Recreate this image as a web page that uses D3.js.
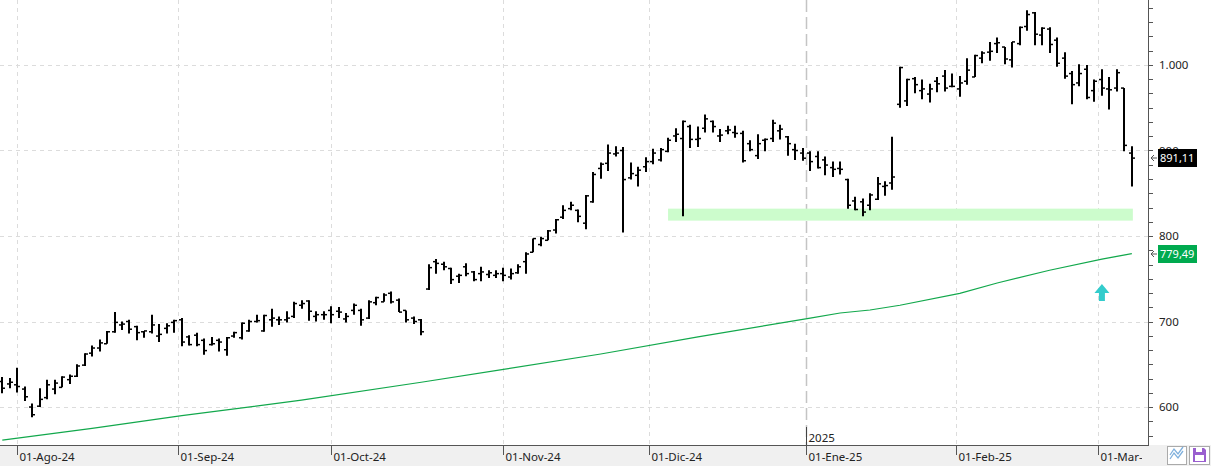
<!DOCTYPE html>
<html>
<head>
<meta charset="utf-8">
<script src="https://cdn.jsdelivr.net/npm/d3@7"></script>
<style>
  body { margin: 0; background: #fff; overflow: hidden; }
  text { font-family: "Segoe UI", "Noto Sans", "DejaVu Sans", sans-serif; }
</style>
</head>
<body>
<div id="chart"></div>
<script>
// trading calendar (US market) from 30-Jul-24 to 07-Mar-25
var firstDay = '2024-07-30', lastDay = '2025-03-07';
var holidays = ['2024-09-02', '2024-11-28', '2024-12-25', '2025-01-01', '2025-01-09', '2025-01-20', '2025-02-17'];

var open = [630, 627, 626, 621, 600, 601, 611, 621, 623, 632,
            636, 649, 663, 669, 674, 688, 696, 700, 694, 688,
            688, 683, 692, 699, 702, 682, 684, 678, 673, 678,
            667, 683, 681, 689, 700, 689, 702, 702, 702, 706,
            719, 724, 706, 708, 713, 712, 703, 713, 713, 704,
            722, 723, 733, 725, 713, 704, 702, 738, 770, 767,
            762, 753, 764, 758, 756, 755, 754, 756, 752, 757,
            770, 781, 790, 795, 807, 822, 832, 830, 815, 840,
            879, 885, 896, 900, 868, 871, 881, 887, 889, 899,
            917, 914, 928, 913, 926, 934, 917, 923, 921, 920,
            908, 894, 912, 914, 923, 916, 901, 897, 897, 893,
            889, 880, 879, 866, 841, 840, 836, 843, 858, 862,
            954, 958, 984, 970, 966, 981, 987, 975, 972, 981,
            986, 1008, 1015, 1025, 1021, 1006, 1025, 1045, 1061, 1035,
            1042, 1029, 1008, 990, 979, 995, 970, 983, 972, 973,
            973, 897];
var high = [635, 634, 646, 624, 604, 622, 632, 632, 636, 638,
            650, 663, 672, 679, 689, 711, 700, 702, 695, 689,
            708, 697, 698, 702, 704, 684, 687, 680, 682, 680,
            682, 688, 699, 702, 708, 708, 715, 706, 712, 723,
            725, 725, 712, 712, 718, 717, 710, 721, 715, 725,
            729, 733, 735, 727, 713, 706, 703, 767, 773, 770,
            763, 756, 768, 759, 764, 760, 760, 763, 762, 767,
            781, 797, 799, 807, 820, 836, 840, 831, 848, 875,
            886, 907, 905, 904, 886, 881, 892, 902, 903, 915,
            926, 935, 930, 928, 942, 935, 925, 929, 929, 923,
            912, 919, 914, 936, 930, 917, 908, 903, 899, 899,
            893, 887, 887, 867, 846, 844, 850, 869, 864, 916,
            998, 984, 986, 983, 978, 986, 994, 990, 987, 1008,
            1012, 1016, 1027, 1032, 1021, 1027, 1045, 1064, 1062, 1044,
            1044, 1032, 1015, 993, 1001, 1000, 983, 995, 986, 995,
            973, 905];
var low = [616, 622, 617, 607, 588, 600, 609, 615, 623, 627,
           635, 648, 659, 665, 674, 687, 690, 686, 678, 681,
           686, 676, 686, 687, 671, 672, 671, 661, 672, 665,
           660, 681, 679, 688, 699, 688, 694, 696, 699, 704,
           715, 701, 700, 702, 698, 704, 699, 708, 695, 703,
           719, 723, 721, 711, 699, 697, 684, 737, 756, 760,
           744, 745, 753, 747, 747, 751, 751, 747, 749, 756,
           756, 781, 788, 795, 803, 820, 830, 816, 808, 839,
           867, 876, 893, 804, 866, 858, 875, 884, 887, 898,
           910, 823, 903, 904, 921, 921, 910, 919, 915, 886,
           899, 890, 899, 910, 913, 894, 889, 888, 876, 879,
           871, 869, 872, 832, 830, 823, 830, 842, 847, 854,
           950, 952, 967, 960, 956, 968, 969, 974, 963, 977,
           986, 1002, 1005, 1014, 1001, 997, 1023, 1040, 1023, 1023,
           1014, 998, 984, 954, 975, 960, 957, 964, 948, 969,
           899, 858];
var close = [622, 629, 624, 612, 591, 609, 626, 628, 635, 636,
             648, 662, 669, 675, 688, 699, 697, 691, 687, 689,
             696, 685, 695, 701, 676, 673, 673, 666, 674, 676,
             681, 687, 698, 700, 701, 707, 704, 702, 704, 721,
             721, 712, 708, 708, 708, 711, 706, 719, 702, 723,
             728, 731, 723, 711, 702, 700, 688, 763, 768, 764,
             749, 754, 756, 749, 758, 757, 756, 754, 756, 764,
             779, 797, 797, 806, 819, 830, 836, 823, 847, 872,
             884, 897, 897, 866, 873, 877, 887, 897, 901, 912,
             919, 934, 913, 914, 937, 928, 918, 924, 920, 888,
             901, 908, 913, 932, 925, 908, 900, 891, 887, 880,
             883, 878, 878, 836, 831, 828, 848, 861, 859, 869,
             997, 983, 977, 972, 972, 978, 973, 975, 979, 994,
             1011, 1014, 1016, 1026, 1007, 1027, 1044, 1059, 1036, 1043,
             1024, 1002, 987, 977, 990, 962, 981, 973, 971, 991,
             906, 891.11];

// moving average (bar number -> value)
var maBar = [0, 12, 24, 40, 56, 67, 80, 93, 108, 112, 116, 120, 128, 133, 140, 147, 151];
var maVal = [561.4, 575, 590, 608, 629, 644, 662, 682, 704, 710, 713.5, 719, 733, 745, 760, 773, 779.49];

var zoneLow = 818, zoneHigh = 832, zoneFrom = '2024-12-04', zoneTo = '2025-03-07';
var signalDay = '2025-03-03', signalValue = 744;

var yTicks = [600, 700, 800, 900, 1000];
var monthNames = ['Ene', 'Feb', 'Mar', 'Abr', 'May', 'Jun', 'Jul', 'Ago', 'Sep', 'Oct', 'Nov', 'Dic'];

var W = 1211, H = 466, plotR = 1148, plotB = 445;

var es = d3.formatLocale({decimal: ',', thousands: '.', grouping: [3], currency: ['', ' €']});
var fmtTick = es.format(',.0f'), fmtLast = es.format(',.2f');

// build the list of trading days
var parse = d3.utcParse('%Y-%m-%d'), fmtKey = d3.utcFormat('%Y-%m-%d');
var days = d3.utcDay.range(parse(firstDay), d3.utcDay.offset(parse(lastDay), 1))
  .filter(function(d) { var w = d.getUTCDay(); return w !== 0 && w !== 6 && holidays.indexOf(fmtKey(d)) < 0; });

var bars = days.map(function(d, i) {
  return {date: d, open: open[i], high: high[i], low: low[i], close: close[i]};
});
function dayIndex(s) {
  var t = parse(s).getTime();
  for (var i = 0; i < days.length; i++) if (days[i].getTime() >= t) return i;
  return days.length - 1;
}

var x = d3.scaleLinear().domain([-0.307, 153.16]).range([0, plotR]);
var y = d3.scaleLinear().domain([555.6, 1076]).range([plotB, 0]);

var svg = d3.select('#chart').append('svg').attr('width', W).attr('height', H);

svg.append('rect').attr('x', 0).attr('y', 0).attr('width', W).attr('height', H).attr('fill', '#fff');
svg.append('rect').attr('x', 0).attr('y', plotB).attr('width', W).attr('height', H - plotB).attr('fill', '#f0f0f0');

// month ticks: on the first trading day, or between days when the 1st is closed
var monthTicks = [];
d3.utcMonth.range(parse('2024-08-01'), parse('2025-03-02')).forEach(function(m) {
  var i = dayIndex(fmtKey(m));
  var pos = days[i].getTime() === m.getTime() ? i : i - 0.5;
  monthTicks.push({pos: pos, date: m});
});
var yearTick = monthTicks.filter(function(t) { return t.date.getUTCMonth() === 0; })[0];

var grid = svg.append('g');
grid.selectAll('.hg').data(yTicks).enter().append('line')
  .attr('x1', 0).attr('x2', plotR)
  .attr('y1', function(d) { return Math.round(y(d)) + 0.5; })
  .attr('y2', function(d) { return Math.round(y(d)) + 0.5; })
  .style('stroke', '#dcdcdc').style('stroke-dasharray', '4,4');
grid.selectAll('.vg').data(monthTicks.filter(function(t) { return t !== yearTick; })).enter().append('line')
  .attr('x1', function(d) { return Math.round(x(d.pos)) + 0.5; })
  .attr('x2', function(d) { return Math.round(x(d.pos)) + 0.5; })
  .attr('y1', 0).attr('y2', plotB)
  .style('stroke', '#dcdcdc').style('stroke-dasharray', '4,4');
grid.append('line')
  .attr('x1', Math.round(x(yearTick.pos)) + 0.5).attr('x2', Math.round(x(yearTick.pos)) + 0.5)
  .attr('y1', 0).attr('y2', plotB)
  .style('stroke', '#c4c4c4').style('stroke-width', 1.5).style('stroke-dasharray', '12,5');

// support zone
var z0 = dayIndex(zoneFrom), z1 = dayIndex(zoneTo);
svg.append('rect')
  .attr('x', x(z0)).attr('width', x(z1) - x(z0) + 1)
  .attr('y', y(zoneHigh)).attr('height', y(zoneLow) - y(zoneHigh))
  .attr('fill', '#ccfccc');

// moving average
var maLine = d3.line()
  .x(function(d, i) { return x(maBar[i]); })
  .y(function(d) { return y(d); });
svg.append('path').datum(maVal).attr('d', maLine)
  .attr('fill', 'none').style('stroke', '#12a84c').style('stroke-width', 1.2);

// OHLC bars
var g = svg.append('g').attr('class', 'bars');
bars.forEach(function(b, i) {
  var cx = Math.round(x(i));
  g.append('line').attr('x1', cx).attr('x2', cx).attr('y1', y(b.high)).attr('y2', y(b.low))
    .style('stroke', '#000').style('stroke-width', 2);
  g.append('line').attr('x1', cx - 3).attr('x2', cx).attr('y1', y(b.open)).attr('y2', y(b.open))
    .style('stroke', '#000').style('stroke-width', 1.5);
  g.append('line').attr('x1', cx).attr('x2', cx + 3).attr('y1', y(b.close)).attr('y2', y(b.close))
    .style('stroke', '#000').style('stroke-width', 1.5);
});

// signal arrow
var ax = x(dayIndex(signalDay)), ay = y(signalValue);
svg.append('path')
  .attr('d', 'M' + ax + ',' + ay + 'l7.5,9h-4.5v8h-6v-8h-4.5z')
  .attr('fill', '#33cccc');

// right axis
var axisR = svg.append('g');
axisR.append('line').attr('x1', plotR + 0.5).attr('x2', plotR + 0.5).attr('y1', 0).attr('y2', plotB)
  .style('stroke', '#555');
var minor = d3.range(550, 1080, 100 / 6).filter(function(v) { return y(v) > 0 && y(v) < plotB; });
axisR.selectAll('.mt').data(minor).enter().append('line')
  .attr('x1', plotR).attr('x2', plotR + 5)
  .attr('y1', function(d) { return Math.round(y(d)) + 0.5; })
  .attr('y2', function(d) { return Math.round(y(d)) + 0.5; })
  .style('stroke', '#555');
axisR.selectAll('.yl').data(yTicks).enter().append('text')
  .attr('x', plotR + 11).attr('y', function(d) { return y(d); })
  .attr('dy', '0.35em').style('font-size', '11.5px').style('fill', '#222')
  .text(function(d) { return fmtTick(d); });

// last value labels
function lastLabel(v, bg) {
  var ly = Math.round(y(v));
  axisR.append('path').attr('d', 'M' + (plotR + 6) + ',' + (ly - 3) + 'l-3,3l3,3M' + (plotR + 3) + ',' + ly + 'h6')
    .attr('fill', 'none').style('stroke', '#555');
  axisR.append('rect').attr('x', plotR + 10).attr('y', ly - 9).attr('width', 39).attr('height', 18).attr('fill', bg);
  axisR.append('text').attr('x', plotR + 12).attr('y', ly).attr('dy', '0.36em')
    .style('font-size', '11px').style('fill', '#fff').text(fmtLast(v));
}
lastLabel(close[close.length - 1], '#000');
lastLabel(maVal[maVal.length - 1], '#00aa4f');

// bottom axis
var axisB = svg.append('g');
axisB.append('line').attr('x1', 0).attr('x2', plotR + 1).attr('y1', plotB + 0.5).attr('y2', plotB + 0.5)
  .style('stroke', '#555');
axisB.append('clipPath').attr('id', 'clipB').append('rect').attr('x', 0).attr('y', plotB).attr('width', 1142).attr('height', 30);
var lab = axisB.append('g').attr('clip-path', 'url(#clipB)');
monthTicks.forEach(function(t) {
  var tx = Math.round(x(t.pos)) + 0.5;
  axisB.append('line').attr('x1', tx).attr('x2', tx).attr('y1', plotB).attr('y2', plotB + 10).style('stroke', '#555');
  lab.append('text').attr('x', tx + 2).attr('y', 461).style('font-size', '11.5px').style('fill', '#222')
    .text('01-' + monthNames[t.date.getUTCMonth()] + '-' + String(t.date.getUTCFullYear()).slice(2));
});
var yx = Math.round(x(yearTick.pos)) + 0.5;
axisB.append('line').attr('x1', yx).attr('x2', yx).attr('y1', 427).attr('y2', plotB).style('stroke', '#444');
axisB.append('text').attr('x', yx + 2).attr('y', 442).style('font-size', '11.5px').style('fill', '#222')
  .text(yearTick.date.getUTCFullYear());

// toolbar buttons
var tb = svg.append('g');
tb.append('rect').attr('x', 1167.5).attr('y', 446.5).attr('width', 19).attr('height', 18).attr('fill', '#fff').style('stroke', '#aaa');
tb.append('path').attr('d', 'M1170,459l4,-6l4,5l5,-7M1170,455l4,-6l4,5l5,-7')
  .attr('fill', 'none').style('stroke', '#7fb0dd').style('stroke-width', 1.3);
tb.append('rect').attr('x', 1189.5).attr('y', 446.5).attr('width', 20).attr('height', 18).attr('fill', '#fff').style('stroke', '#aaa');
tb.append('path').attr('d', 'M1193,448h11l2,2v12h-13z').attr('fill', '#9a5fcf');
tb.append('rect').attr('x', 1196).attr('y', 448).attr('width', 6).attr('height', 4).attr('fill', '#fff');
tb.append('rect').attr('x', 1195).attr('y', 455).attr('width', 9).attr('height', 6).attr('fill', '#fff');
</script>
</body>
</html>
